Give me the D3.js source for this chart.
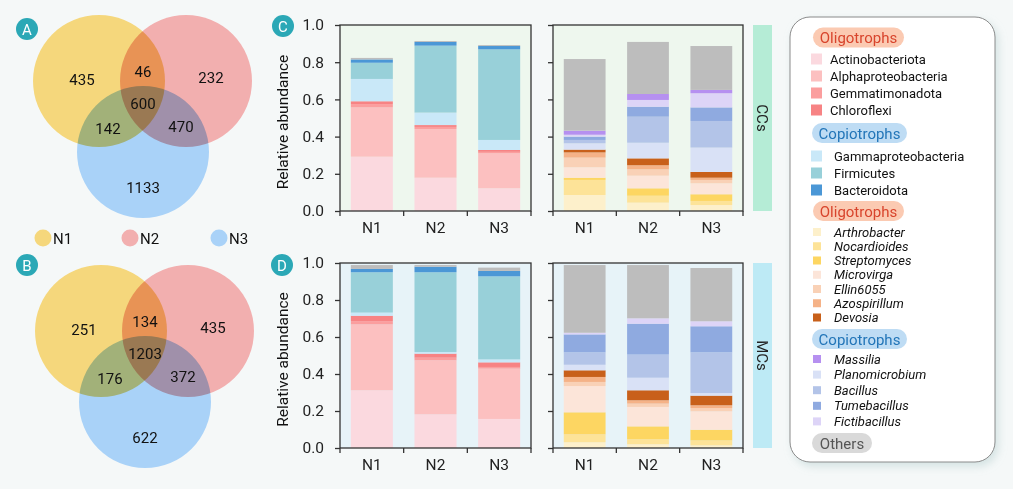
<!DOCTYPE html>
<html>
<head>
<meta charset="utf-8">
<script src="https://cdn.jsdelivr.net/npm/d3@7"></script>
<style>
  body{margin:0;background:#f5f8f8;}
  svg{display:block;font-family:Roboto,"DejaVu Sans",sans-serif;}
</style>
</head>
<body>
<svg id="fig" width="1013" height="489"></svg>
<script>
// ---- data ----
const samples=["N1","N2","N3"];
const vennSets=["N1","N2","N3"];
const vennA=[435,46,232,600,142,470,1133];
const vennB=[251,134,435,1203,176,372,622];

const phylumNames=["Actinobacteriota","Alphaproteobacteria","Gemmatimonadota","Chloroflexi","Gammaproteobacteria","Firmicutes","Bacteroidota","Others"];
const phylumColors=["#fbd9df","#fcc0c0","#fb9e9e","#f78384","#c9e8f8","#98d0d9","#4b97d6","#bdbdbd"];
// rows N1,N2,N3
const phylumCC=[
  [0.292,0.265,0.018,0.015,0.120,0.087,0.018,0.008],
  [0.179,0.262,0.011,0.010,0.067,0.360,0.020,0.005],
  [0.122,0.188,0.008,0.010,0.054,0.487,0.018,0.005]
];
const phylumMC=[
  [0.312,0.356,0.018,0.029,0.017,0.218,0.018,0.021],
  [0.182,0.292,0.014,0.022,0.009,0.431,0.030,0.009],
  [0.157,0.272,0.009,0.025,0.016,0.449,0.029,0.018]
];

const genusNames=["Arthrobacter","Nocardioides","Streptomyces","Microvirga","Ellin6055","Azospirillum","Devosia","Planomicrobium","Bacillus","Tumebacillus","Fictibacillus","Massilia","Others"];
const genusColors=["#fdf0cb","#fde398","#fdd662","#fce5d9","#f9d1b6","#f5b287","#c8601a","#d9e1f6","#b3c4e8","#8faae0","#ddd4f7","#b690f0","#bdbdbd"];
const genusCC=[
  [0.086,0.081,0.012,0.056,0.052,0.028,0.015,0.034,0.018,0.018,0.010,0.022,0.385],
  [0.045,0.037,0.040,0.068,0.034,0.022,0.037,0.084,0.140,0.054,0.036,0.032,0.280],
  [0.032,0.022,0.036,0.059,0.018,0.012,0.031,0.131,0.143,0.073,0.076,0.018,0.236]
];
const genusMC=[
  [0.031,0.043,0.119,0.142,0.022,0.027,0.036,0.030,0.067,0.097,0.009,0.000,0.366],
  [0.020,0.027,0.070,0.105,0.018,0.018,0.054,0.068,0.125,0.167,0.029,0.000,0.288],
  [0.014,0.027,0.058,0.099,0.018,0.015,0.052,0.014,0.220,0.141,0.027,0.000,0.288]
];
const yTicks=[0,0.2,0.4,0.6,0.8,1.0];

const legendOligoPhyla=["Actinobacteriota","Alphaproteobacteria","Gemmatimonadota","Chloroflexi"];
const legendCopioPhyla=["Gammaproteobacteria","Firmicutes","Bacteroidota"];
const legendOligoGenera=["Arthrobacter","Nocardioides","Streptomyces","Microvirga","Ellin6055","Azospirillum","Devosia"];
const legendCopioGenera=["Massilia","Planomicrobium","Bacillus","Tumebacillus","Fictibacillus"];

const svg=d3.select("#fig");
const teal="#2ba8b6";

function badge(x,y,t){
  svg.append("circle").attr("cx",x).attr("cy",y).attr("r",11).attr("fill",teal);
  svg.append("text").attr("x",x).attr("y",y+5.5).attr("text-anchor","middle")
    .attr("font-size","15px").attr("fill","#fff").text(t);
}

// ---- venn ----
const vennColors=["#f5d77c","#f2afaf","#a9d2f8"];
function venn(cx,cy,counts){
  const r=66;
  const centers=[[cx-44,cy],[cx+43,cy],[cx,cy+71]];
  const g=svg.append("g").style("isolation","isolate");
  g.selectAll("circle").data(centers).join("circle")
    .attr("cx",d=>d[0]).attr("cy",d=>d[1]).attr("r",r)
    .attr("fill",(d,i)=>vennColors[i]).style("mix-blend-mode","multiply");
  const pos=[[-61,-2],[0,-10],[68,-4],[0,22],[-35,47],[38,45],[0,106]];
  g.selectAll("text").data(counts).join("text")
    .attr("x",(d,i)=>cx+pos[i][0]).attr("y",(d,i)=>cy+pos[i][1]+5.5)
    .attr("text-anchor","middle").attr("font-size","15px").attr("fill","#111")
    .text(d=>d);
}
venn(143,81,vennA);
venn(145,331,vennB);
badge(27,29,"A");
badge(27,265,"B");
const vl=svg.append("g");
[43,130,219].forEach((x,i)=>{
  vl.append("circle").attr("cx",x).attr("cy",238).attr("r",8.5).attr("fill",vennColors[i]);
  vl.append("text").attr("x",x+10).attr("y",243.5).attr("font-size","15px").attr("fill","#111").text(vennSets[i]);
});

// ---- stacked bars ----
function stackPanel(x0,x1,y0,y1,names,colors,values,bg,showY){
  const g=svg.append("g");
  const rows=samples.map((s,i)=>{
    const o={sample:s};
    names.forEach((n,j)=>o[n]=values[i][j]);
    return o;
  });
  const series=d3.stack().keys(names)(rows);
  const xb=d3.scaleBand().domain(samples).range([x0,x1]).paddingInner(0.34).paddingOuter(0.17);
  const xe=d3.scaleBand().domain(samples).range([x0,x1]);
  const y=d3.scaleLinear().domain([0,1]).range([y1,y0]);
  g.append("rect").attr("x",x0).attr("y",y0).attr("width",x1-x0).attr("height",y1-y0).attr("fill",bg);
  g.selectAll(".layer").data(series).join("g").attr("fill",(d,i)=>colors[i])
    .selectAll("rect").data(d=>d).join("rect")
    .attr("x",d=>xb(d.data.sample)).attr("width",xb.bandwidth())
    .attr("y",d=>y(d[1])).attr("height",d=>Math.max(0,y(d[0])-y(d[1])));
  g.append("rect").attr("x",x0).attr("y",y0).attr("width",x1-x0).attr("height",y1-y0)
    .attr("fill","none").attr("stroke","#333").attr("stroke-width",1.3);
  const ya=g.append("g").attr("transform",`translate(${x0},0)`)
    .call(d3.axisLeft(y).tickValues(yTicks).tickSize(5).tickPadding(11).tickFormat(showY?d3.format(".1f"):""));
  ya.select(".domain").remove();
  ya.selectAll("line").attr("stroke","#333").attr("stroke-width",1.3);
  ya.selectAll("text").attr("font-size","15.5px").attr("fill","#222").attr("font-family","Roboto");
  const xa=g.append("g").attr("transform",`translate(0,${y1})`)
    .call(d3.axisBottom(xe).tickSize(0).tickPadding(11));
  xa.select(".domain").remove();
  xa.selectAll("text").attr("font-size","15.5px").attr("fill","#222").attr("font-family","Roboto");
  const edges=samples.map(s=>xe(s)).concat([x1]);
  g.selectAll(".etick").data(edges).join("line")
    .attr("x1",d=>d).attr("x2",d=>d).attr("y1",y1).attr("y2",y1+5)
    .attr("stroke","#333").attr("stroke-width",1.3);
  if(showY){
    svg.append("text").attr("transform",`translate(288,${(y0+y1)/2+4}) rotate(-90)`)
      .attr("text-anchor","middle").attr("font-size","15.5px").attr("fill","#111").text("Relative abundance");
  }
}
const cTop=25,cBot=211,dTop=263,dBot=448;
stackPanel(340,531,cTop,cBot,phylumNames,phylumColors,phylumCC,"#eef7ee",true);
stackPanel(553,743,cTop,cBot,genusNames,genusColors,genusCC,"#eef7ee",false);
stackPanel(340,531,dTop,dBot,phylumNames,phylumColors,phylumMC,"#e7f3f8",true);
stackPanel(553,743,dTop,dBot,genusNames,genusColors,genusMC,"#e7f3f8",false);
badge(283,26,"C");
badge(282,265,"D");

function strip(y0,y1,fill,label){
  svg.append("rect").attr("x",753).attr("y",y0).attr("width",19).attr("height",y1-y0).attr("fill",fill);
  svg.append("text").attr("transform",`translate(757,${(y0+y1)/2}) rotate(90)`)
    .attr("text-anchor","middle").attr("font-size","15px").attr("fill","#222").text(label);
}
strip(cTop,cBot,"#b5ecd6","CCs");
strip(dTop,dBot,"#bdeaf5","MCs");

// ---- legend ----
const defs=svg.append("defs");
const f=defs.append("filter").attr("id","sh").attr("x","-10%").attr("y","-10%").attr("width","130%").attr("height","130%");
f.append("feDropShadow").attr("dx",3).attr("dy",4).attr("stdDeviation",4).attr("flood-color","#9bb").attr("flood-opacity",0.35);
svg.append("rect").attr("x",790).attr("y",17).attr("width",205).attr("height",445).attr("rx",20)
  .attr("fill","#fff").attr("stroke","#8a8a8a").attr("stroke-width",1).attr("filter","url(#sh)");

function pill(x,cy,w,label,fill,color){
  svg.append("rect").attr("x",x).attr("y",cy-10).attr("width",w).attr("height",20).attr("rx",10).attr("fill",fill);
  svg.append("text").attr("x",x+w/2).attr("y",cy+5.5).attr("text-anchor","middle")
    .attr("font-size","15px").attr("fill",color).text(label);
}
function items(list,names,colors,ys,sw,sx,tx,italic){
  const g=svg.append("g");
  list.forEach((n,i)=>{
    const c=colors[names.indexOf(n)];
    g.append("rect").attr("x",sx).attr("y",ys[i]-sw/2).attr("width",sw).attr("height",sw).attr("fill",c);
    g.append("text").attr("x",tx).attr("y",ys[i]+4.5).attr("font-size","13px")
      .attr("font-style",italic?"italic":"normal").attr("fill","#111").text(n);
  });
}
const oligoFill="#fbcab2",oligoText="#d8442c",copioFill="#bedcf4",copioText="#2275b8";
pill(813,37.5,91,"Oligotrophs",oligoFill,oligoText);
items(legendOligoPhyla,phylumNames,phylumColors,legendOligoPhyla.map((d,i)=>59+i*17),11,811,830,false);
pill(812,133,95,"Copiotrophs",copioFill,copioText);
items(legendCopioPhyla,phylumNames,phylumColors,legendCopioPhyla.map((d,i)=>156+i*17),11,811,834,false);
pill(813,211,91,"Oligotrophs",oligoFill,oligoText);
items(legendOligoGenera,genusNames,genusColors,legendOligoGenera.map((d,i)=>232+i*14.25),8,813,834,true);
pill(812,339,95,"Copiotrophs",copioFill,copioText);
items(legendCopioGenera,genusNames,genusColors,legendCopioGenera.map((d,i)=>359+i*15.6),8,813,834,true);
pill(812,443,60,"Others","#d9d9d9","#555");
</script>
</body>
</html>
